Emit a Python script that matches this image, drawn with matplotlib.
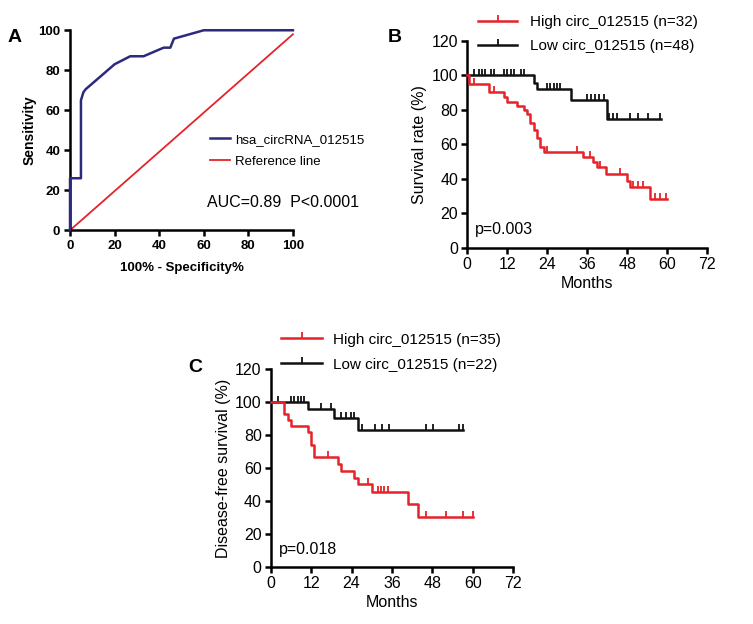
import numpy as np
import matplotlib
matplotlib.use("Agg")
from matplotlib import pyplot as plt
from matplotlib.lines import Line2D

plt.rcParams['font.family'] = ['Liberation Sans', 'DejaVu Sans']

NAVY = '#2c2a7c'
RED = '#e5232a'
BLACK = '#111111'

# ---- panel A: ROC curve ----
roc_fpr = [0, 0, 4.9, 4.9, 6, 7, 20, 27, 33, 42, 45, 46.6, 60, 100]
roc_tpr = [0, 26, 26, 65, 69, 70.5, 83, 87, 87, 91.3, 91.3, 95.8, 100, 100]
ref_x = [0, 100]
ref_y = [0, 98]
auc_text = "AUC=0.89  P<0.0001"

# ---- panel B: overall survival ----
b_high_t = [0, 0.5, 6.6, 10.9, 11.9, 14.9, 16.9, 17.9, 18.9, 19.9, 20.9, 21.9, 22.9,
            34.8, 37.8, 38.8, 41.6, 47.8, 48.8, 54.8, 60]
b_high_s = [100, 94.9, 90.0, 87.6, 84.7, 82.3, 79.8, 77.3, 72.1, 68.2, 63.4, 58.2, 55.7,
            52.8, 49.9, 47.0, 42.7, 38.8, 35.0, 28.0, 28.0]
b_high_cens = [1.9, 8, 23.9, 32.9, 36.8, 39.8, 45.8, 49.8, 51.3, 52.8, 56.3, 57.8, 59.6]
b_low_t = [0, 20, 21, 31, 42, 58.2]
b_low_s = [100, 95.5, 92.0, 85.6, 74.8, 74.8]
b_low_cens = [1.9, 3.6, 4.4, 5.2, 7.2, 8, 11, 12, 13, 14, 16, 17,
              23.9, 24.9, 25.9, 26.9, 27.9, 35.8, 37, 38.3, 39.6, 41,
              42.6, 43.8, 44.8, 48.8, 51.3, 54.3, 57.8]
b_labels = ["High circ_012515 (n=32)", "Low circ_012515 (n=48)"]
b_p = "p=0.003"

# ---- panel C: disease-free survival ----
c_high_t = [0, 4, 5, 6, 11, 12, 12.9, 19.9, 20.9, 24.8, 25.8, 30.1, 40.8, 43.8, 60]
c_high_s = [100, 92.7, 89.2, 85.8, 81.7, 74.0, 66.9, 62.3, 58.2, 53.8, 50.1, 45.6, 38.1, 30.4, 30.4]
c_high_cens = [16.9, 28.8, 31.8, 32.7, 33.7, 34.7, 46, 52, 57, 60]
c_low_t = [0, 11, 18.9, 25.8, 57.2]
c_low_s = [100, 95.9, 90.6, 83.2, 83.2]
c_low_cens = [2.1, 6, 7, 8, 9, 10, 14.9, 17.9, 20.9, 22.3, 23.8, 24.8,
              27, 31, 33, 35, 46, 48.3, 56, 57]
c_labels = ["High circ_012515 (n=35)", "Low circ_012515 (n=22)"]
c_p = "p=0.018"


def level_at(times, surv, t):
    idx = np.searchsorted(times, t, side='right') - 1
    return np.asarray(surv)[idx]


def km(ax, times, surv, cens, color):
    ax.step(times, surv, where='post', color=color, lw=1.8, clip_on=False, zorder=3)
    ax.plot(cens, level_at(times, surv, cens), ls='none', marker=2, ms=4.5,
            mew=1.3, color=color, clip_on=False, zorder=3)


def style_km(ax, ylabel):
    ax.set_xlim(0, 72)
    ax.set_ylim(0, 120)
    ax.set_xticks(np.arange(0, 73, 12))
    ax.set_yticks(np.arange(0, 121, 20))
    for s in ['top', 'right']:
        ax.spines[s].set_visible(False)
    for s in ['left', 'bottom']:
        ax.spines[s].set_linewidth(1.8)
    ax.tick_params(direction='out', length=4.5, width=1.8, labelsize=11.5, pad=2)
    ax.set_xlabel('Months', fontsize=11.5, labelpad=3)
    ax.set_ylabel(ylabel, fontsize=11.5, labelpad=3)


fig = plt.figure(figsize=(7.53, 6.24), dpi=100)

# panel A
axA = fig.add_axes([0.093, 0.631, 0.296, 0.3205])
axA.plot(roc_fpr, roc_tpr, color=NAVY, lw=1.8, clip_on=False, zorder=3,
         label='hsa_circRNA_012515')
axA.plot(ref_x, ref_y, color=RED, lw=1.3, clip_on=False, zorder=2, label='Reference line')
axA.set_xlim(0, 100)
axA.set_ylim(0, 100)
axA.set_xticks(np.arange(0, 101, 20))
axA.set_yticks(np.arange(0, 101, 20))
for s in ['top', 'right']:
    axA.spines[s].set_visible(False)
for s in ['left', 'bottom']:
    axA.spines[s].set_linewidth(1.8)
axA.tick_params(direction='out', length=4, width=1.8, pad=3)
for lab in axA.get_xticklabels() + axA.get_yticklabels():
    lab.set_fontweight('bold')
    lab.set_fontsize(9.5)
axA.set_xlabel('100% - Specificity%', fontweight='bold', fontsize=9.5, labelpad=7)
axA.set_ylabel('Sensitivity', fontweight='bold', fontsize=10, labelpad=1)
axA.legend(loc='upper left', bbox_to_anchor=(0.279, 0.786), bbox_transform=fig.transFigure,
           frameon=False, fontsize=9.5, handlelength=1.5,
           handletextpad=0.4, borderpad=0, borderaxespad=0, labelspacing=0.75)
axA.text(61.4, 14, auc_text, fontsize=11.5, va='center')

# panel B
axB = fig.add_axes([0.6206, 0.603, 0.3187, 0.3317])
km(axB, b_low_t, b_low_s, b_low_cens, BLACK)
km(axB, b_high_t, b_high_s, b_high_cens, RED)
style_km(axB, 'Survival rate (%)')
axB.text(2.3, 10.5, b_p, fontsize=11.5, va='center')
handles = [Line2D([], [], color=RED, lw=1.8, marker=2, ms=4.5, mew=1.3),
           Line2D([], [], color=BLACK, lw=1.8, marker=2, ms=4.5, mew=1.3)]
axB.legend(handles, b_labels, loc='upper left', bbox_to_anchor=(0.6344, 0.9753),
           bbox_transform=fig.transFigure, frameon=False, fontsize=11, numpoints=1,
           handlelength=2.6, handletextpad=0.8, borderpad=0, borderaxespad=0,
           labelspacing=0.63)

# panel C
axC = fig.add_axes([0.3595, 0.0918, 0.3222, 0.3163])
km(axC, c_low_t, c_low_s, c_low_cens, BLACK)
km(axC, c_high_t, c_high_s, c_high_cens, RED)
style_km(axC, 'Disease-free survival (%)')
axC.text(2.5, 10.5, c_p, fontsize=11.5, va='center')
handles = [Line2D([], [], color=RED, lw=1.8, marker=2, ms=4.5, mew=1.3),
           Line2D([], [], color=BLACK, lw=1.8, marker=2, ms=4.5, mew=1.3)]
axC.legend(handles, c_labels, loc='upper left', bbox_to_anchor=(0.3732, 0.467),
           bbox_transform=fig.transFigure, frameon=False, fontsize=11, numpoints=1,
           handlelength=2.7, handletextpad=0.7, borderpad=0, borderaxespad=0,
           labelspacing=0.72)

# panel letters
fig.text(8 / 753, 1 - 37 / 624, 'A', fontsize=14, fontweight='bold', va='center')
fig.text(388 / 753, 1 - 37 / 624, 'B', fontsize=14, fontweight='bold', va='center')
fig.text(188 / 753, 1 - 367 / 624, 'C', fontsize=14, fontweight='bold', va='center')

fig.savefig('out.png', dpi=100, facecolor='white')
